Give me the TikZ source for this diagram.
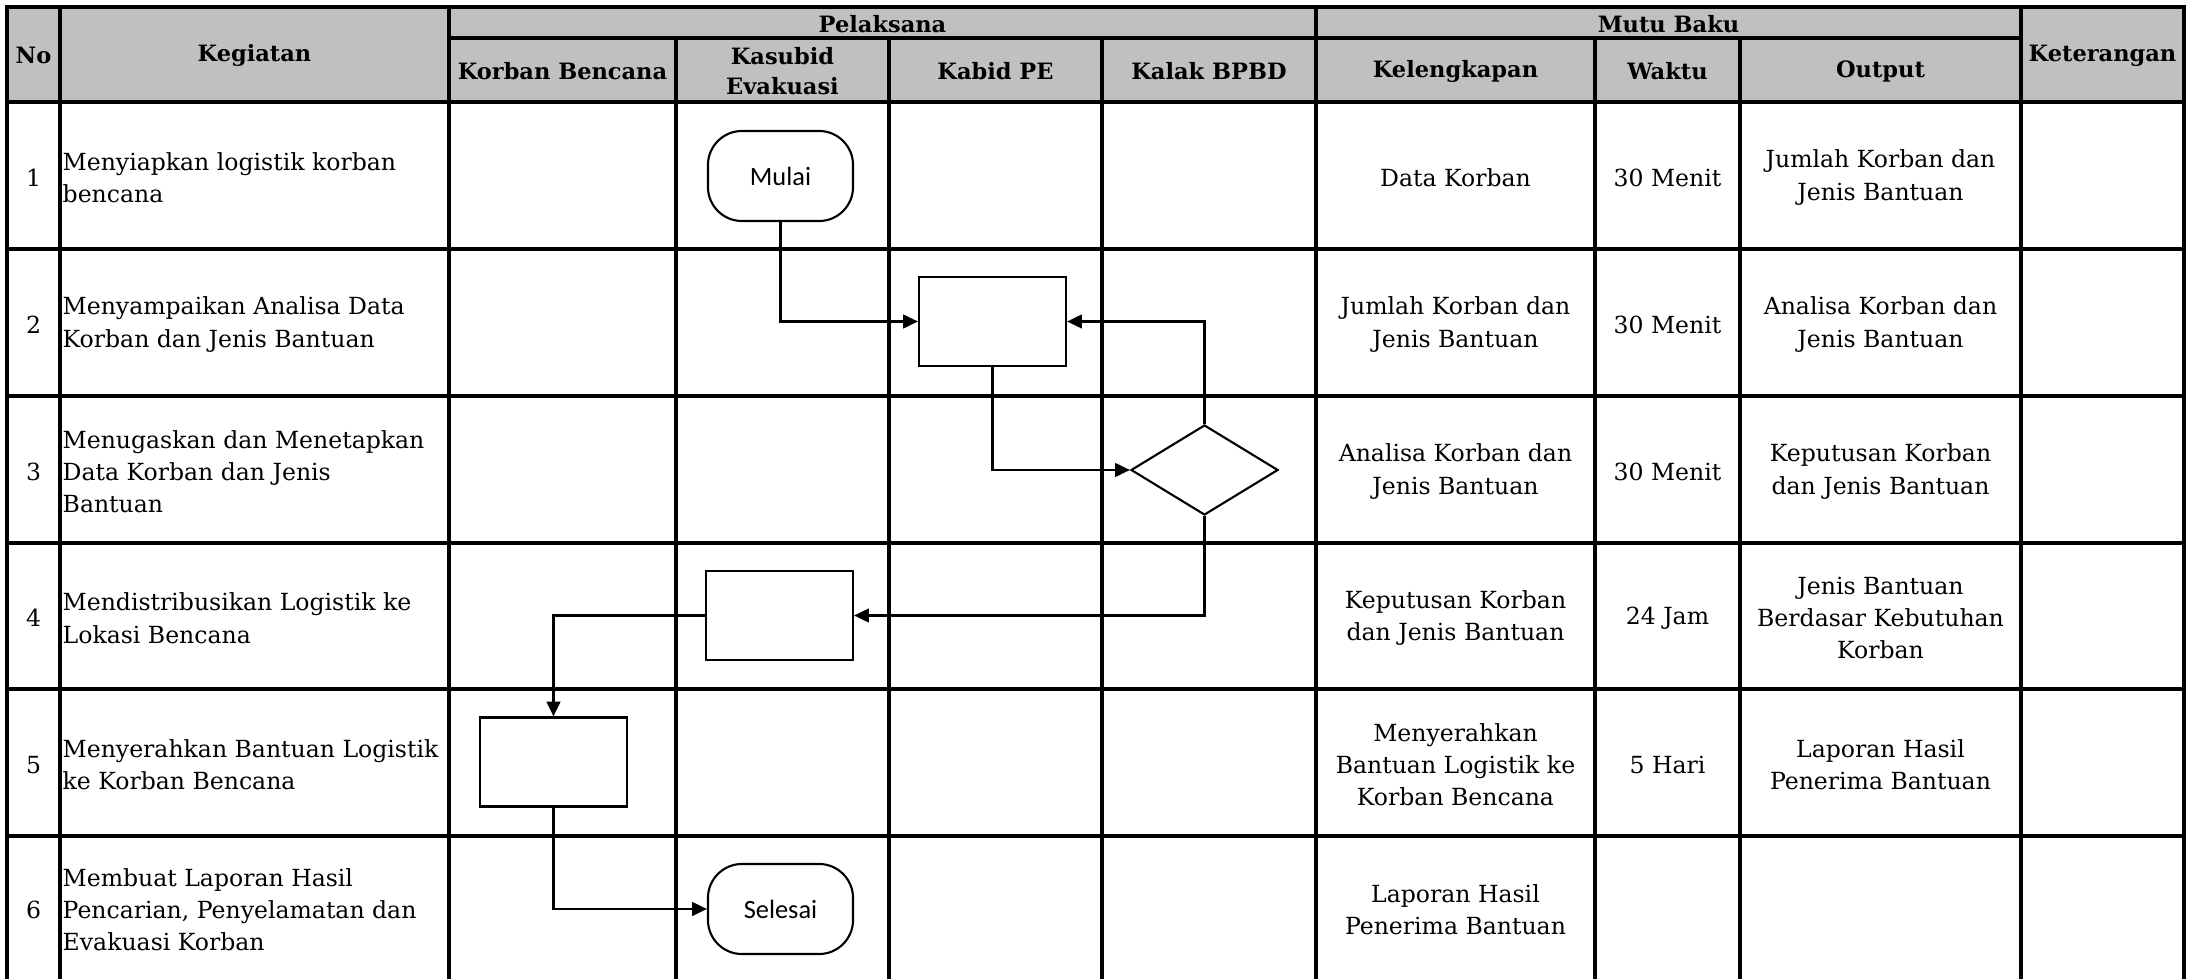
\documentclass[tikz,border=0pt]{standalone}
\usepackage{fontspec}
\setmainfont{DejaVu Serif}
\newfontfamily\flowfont{Carlito}
\usetikzlibrary{shapes.geometric,arrows.meta}
\tikzset{
  gridline/.style={line width=0.9pt, line cap=rect},
  hdr/.style={font=\bfseries\fontsize{6.4pt}{8.5pt}\selectfont, align=center, inner sep=0pt, yshift=-0.4pt},
  body/.style={font=\fontsize{6.7pt}{9.2pt}\selectfont, align=center, inner sep=0pt, yshift=-0.6pt},
  keg/.style={body, align=left, anchor=west},
  proc/.style={draw, line width=0.6pt, minimum width=1.47cm, minimum height=0.89cm, inner sep=0pt},
  term/.style={proc, minimum width=1.45cm, minimum height=0.9cm, rounded corners=0.34cm, font=\flowfont\fontsize{7.5pt}{9pt}\selectfont},
  dec/.style={draw, diamond, line width=0.6pt, minimum width=1.47cm, minimum height=0.9cm, inner sep=0pt},
  conn/.style={line width=0.6pt, -{Triangle[length=4.2pt,width=3.9pt]}}
}
\begin{document}
\begin{tikzpicture}[x=0.01cm,y=-0.01cm]
\useasboundingbox (0,0) rectangle (2193,979);
\fill[white] (0,0) rectangle (2193,979);
% header fill
\fill[fill={rgb,255:red,192;green,192;blue,192}] (7,7) rectangle (2184,102);
% horizontal lines
\draw[gridline] (7,7) -- (2184,7);
\draw[gridline] (449,38) -- (2021,38);
\foreach \yy in {102,249,396,543,689,836}
  \draw[gridline] (7,\yy) -- (2184,\yy);
% vertical lines
\foreach \xx in {7,60,449,1316,2021,2184}
  \draw[gridline] (\xx,7) -- (\xx,979);
\foreach \xx in {676,889,1102,1595,1740}
  \draw[gridline] (\xx,38) -- (\xx,979);

% header texts
\node[hdr] (hNo) at (33.5,54.5) {No};
\node[hdr] (hKeg) at (254.5,54.5) {Kegiatan};
\node[hdr] (hPel) at (882.5,22.5) {Pelaksana};
\node[hdr] (hMutu) at (1668.5,22.5) {Mutu Baku};
\node[hdr] (hKet) at (2102.5,54.5) {Keterangan};
\node[hdr] (hKor) at (562.5,70) {Korban Bencana};
\node[hdr] (hKas) at (782.5,70) {Kasubid\\Evakuasi};
\node[hdr] (hKab) at (995.5,70) {Kabid PE};
\node[hdr] (hKal) at (1209,70) {Kalak BPBD};
\node[hdr] (hKel) at (1455.5,70) {Kelengkapan};
\node[hdr] (hWak) at (1667.5,70) {Waktu};
\node[hdr] (hOut) at (1880.5,70) {Output};

% row numbers
\node[body] (n1) at (33.5,175.5) {1};
\node[body] (n2) at (33.5,322.5) {2};
\node[body] (n3) at (33.5,469.5) {3};
\node[body] (n4) at (33.5,616) {4};
\node[body] (n5) at (33.5,762.5) {5};
\node[body] (n6) at (33.5,907.5) {6};

% kegiatan
\node[keg] (k1) at (62,175.5) {Menyiapkan logistik korban\\bencana};
\node[keg] (k2) at (62,322.5) {Menyampaikan Analisa Data\\Korban dan Jenis Bantuan};
\node[keg] (k3) at (62,469.5) {Menugaskan dan Menetapkan\\Data Korban dan Jenis\\Bantuan};
\node[keg] (k4) at (62,616) {Mendistribusikan Logistik ke\\Lokasi Bencana};
\node[keg] (k5) at (62,762.5) {Menyerahkan Bantuan Logistik\\ke Korban Bencana};
\node[keg] (k6) at (62,907.5) {Membuat Laporan Hasil\\Pencarian, Penyelamatan dan\\Evakuasi Korban};

% kelengkapan
\node[body] (l1) at (1455.5,175.5) {Data Korban};
\node[body] (l2) at (1455.5,322.5) {Jumlah Korban dan\\Jenis Bantuan};
\node[body] (l3) at (1455.5,469.5) {Analisa Korban dan\\Jenis Bantuan};
\node[body] (l4) at (1455.5,616) {Keputusan Korban\\dan Jenis Bantuan};
\node[body] (l5) at (1455.5,762.5) {Menyerahkan\\Bantuan Logistik ke\\Korban Bencana};
\node[body] (l6) at (1455.5,907.5) {Laporan Hasil\\Penerima Bantuan};

% waktu
\node[body] (w1) at (1667.5,175.5) {30 Menit};
\node[body] (w2) at (1667.5,322.5) {30 Menit};
\node[body] (w3) at (1667.5,469.5) {30 Menit};
\node[body] (w4) at (1667.5,616) {24 Jam};
\node[body] (w5) at (1667.5,762.5) {5 Hari};

% output
\node[body] (o1) at (1880.5,175.5) {Jumlah Korban dan\\Jenis Bantuan};
\node[body] (o2) at (1880.5,322.5) {Analisa Korban dan\\Jenis Bantuan};
\node[body] (o3) at (1880.5,469.5) {Keputusan Korban\\dan Jenis Bantuan};
\node[body] (o4) at (1880.5,616) {Jenis Bantuan\\Berdasar Kebutuhan\\Korban};
\node[body] (o5) at (1880.5,762.5) {Laporan Hasil\\Penerima Bantuan};

% flowchart
\node[term, fill=white] (mulai) at (780.5,176) {Mulai};
\node[proc, fill=white] (boxA) at (992.5,321.5) {};
\node[dec, fill=white] (dia) at (1204.5,470) {};
\node[proc, fill=white] (boxB) at (779.5,615.5) {};
\node[proc, fill=white] (boxC) at (553.5,762) {};
\node[term, fill=white] (selesai) at (780.5,909) {Selesai};

\draw[conn] (mulai.south) |- (boxA.west);
\draw[conn] (dia.north) |- (boxA.east);
\draw[conn] (boxA.south) |- (dia.west);
\draw[conn] (dia.south) |- (boxB.east);
\draw[conn] (boxB.west) -| (boxC.north);
\draw[conn] (boxC.south) |- (selesai.west);
\end{tikzpicture}
\end{document}
